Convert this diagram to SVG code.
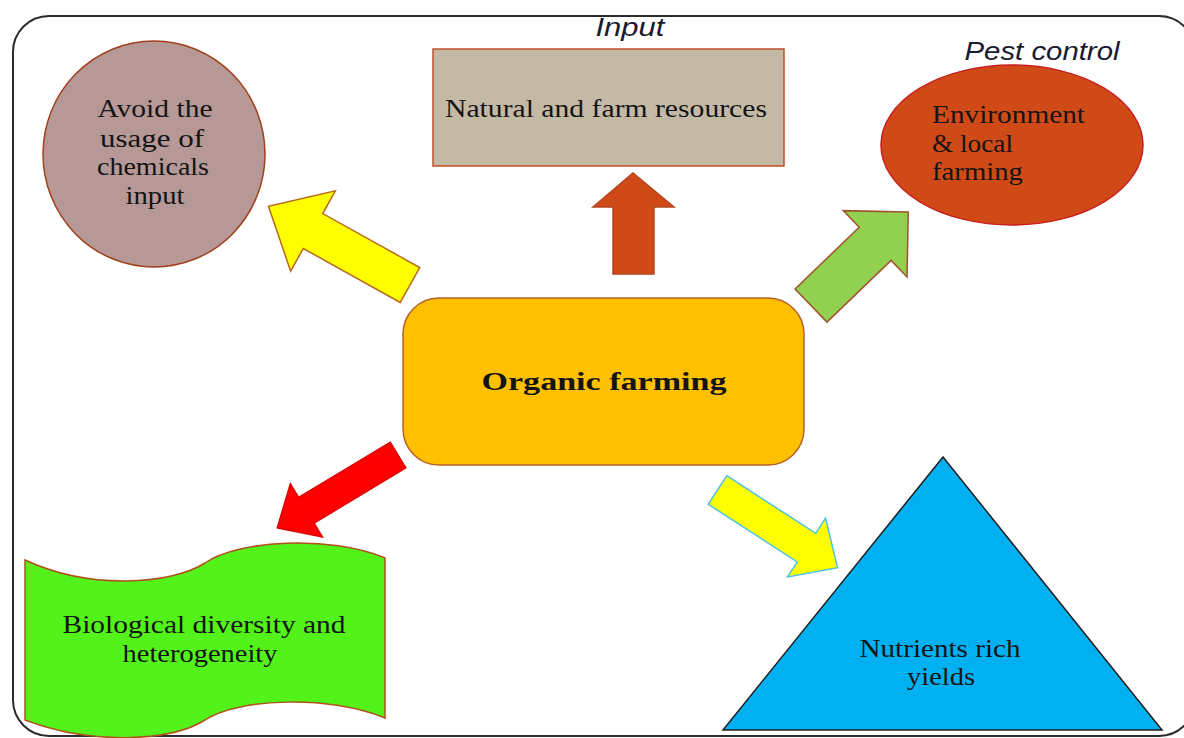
<svg xmlns="http://www.w3.org/2000/svg" width="1184" height="738" viewBox="0 0 1184 738">
<style>
.t{font-family:"Liberation Serif","Times New Roman",serif;font-size:26px;fill:#141414}
.lbl{font-family:"Liberation Sans",Arial,sans-serif;font-style:italic;font-size:25px;fill:#1a1a30}
.arr{stroke-width:1.5;stroke-linejoin:miter}
</style>
<rect x="0" y="0" width="1184" height="738" fill="#ffffff"/>
<rect x="13" y="16" width="1182" height="720" rx="36" ry="36" fill="none" stroke="#2b2b2b" stroke-width="2"/>
<g id="connectors">
  <path class="arr" d="M0,-20 L111,-20 L111,-46 L162,0 L111,46 L111,20 L0,20 Z" transform="translate(410,285) rotate(209.1)" fill="#FFFF00" stroke="#B8691E"/>
  <path class="arr" d="M613,274 L613,207 L593,207 L633,173 L674,207 L654,207 L654,274 Z" fill="#D04A17" stroke="#B5451C"/>
  <path class="arr" d="M0,-23 L89,-23 L89,-46 L135,0 L89,46 L89,23 L0,23 Z" transform="translate(811,305.5) rotate(-43.9)" fill="#92D050" stroke="#A0522D"/>
  <path class="arr" d="M0,-15 L107,-15 L107,-31 L141,0 L107,31 L107,15 L0,15 Z" transform="translate(398,455) rotate(148.9)" fill="#FF0000" stroke="#E00000"/>
  <path class="arr" d="M0,-17 L106,-17 L106,-35 L143,0 L106,35 L106,17 L0,17 Z" transform="translate(717.5,490) rotate(32.9)" fill="#FFFF00" stroke="#4CC3E6"/>
</g>
<g id="avoid">
  <ellipse cx="154" cy="154" rx="111" ry="113" fill="#B69896" stroke="#A0401C" stroke-width="1.5"/>
  <text class="t" x="155" y="117" text-anchor="middle" textLength="115" lengthAdjust="spacingAndGlyphs">Avoid the</text>
  <text class="t" x="152" y="147" text-anchor="middle" textLength="104" lengthAdjust="spacingAndGlyphs">usage of</text>
  <text class="t" x="153" y="175" text-anchor="middle" textLength="112" lengthAdjust="spacingAndGlyphs">chemicals</text>
  <text class="t" x="155" y="204" text-anchor="middle" textLength="59" lengthAdjust="spacingAndGlyphs">input</text>
</g>
<g id="natural">
  <text class="lbl" x="630" y="36" text-anchor="middle" textLength="69" lengthAdjust="spacingAndGlyphs">Input</text>
  <rect x="433" y="49" width="351" height="117" fill="#C4B9A5" stroke="#C0502A" stroke-width="1.5"/>
  <text class="t" x="606" y="117" text-anchor="middle" textLength="322" lengthAdjust="spacingAndGlyphs">Natural and farm resources</text>
</g>
<g id="environment">
  <text class="lbl" x="1042" y="60" text-anchor="middle" textLength="155" lengthAdjust="spacingAndGlyphs">Pest control</text>
  <ellipse cx="1012" cy="145" rx="131" ry="80" fill="#D04A17" stroke="#C8201E" stroke-width="1.5"/>
  <text class="t" x="932" y="123" textLength="153" lengthAdjust="spacingAndGlyphs">Environment</text>
  <text class="t" x="932" y="152" textLength="81" lengthAdjust="spacingAndGlyphs">&amp; local</text>
  <text class="t" x="932" y="180" textLength="91" lengthAdjust="spacingAndGlyphs">farming</text>
</g>
<g id="organic">
  <rect x="403" y="298" width="401" height="167" rx="36" ry="36" fill="#FFC000" stroke="#B8602A" stroke-width="1.5"/>
  <text class="t" x="604" y="390" text-anchor="middle" font-weight="bold" textLength="245" lengthAdjust="spacingAndGlyphs">Organic farming</text>
</g>
<g id="biological">
  <path d="M25,560 C90,590 170,585 205,563 C238,540 330,535 385,558 L385,718 C330,695 238,698 205,720 C170,742 90,745 25,720 Z" fill="#52F21A" stroke="#B0501A" stroke-width="1.5"/>
  <text class="t" x="204" y="633" text-anchor="middle" textLength="283" lengthAdjust="spacingAndGlyphs">Biological diversity and</text>
  <text class="t" x="200" y="662" text-anchor="middle" textLength="155" lengthAdjust="spacingAndGlyphs">heterogeneity</text>
</g>
<g id="nutrients">
  <polygon points="943,457 1162,730 723,730" fill="#00B0F0" stroke="#1e1e1e" stroke-width="1.5"/>
  <text class="t" x="940" y="657" text-anchor="middle" textLength="161" lengthAdjust="spacingAndGlyphs">Nutrients rich</text>
  <text class="t" x="941" y="685" text-anchor="middle" textLength="68" lengthAdjust="spacingAndGlyphs">yields</text>
</g>
</svg>
